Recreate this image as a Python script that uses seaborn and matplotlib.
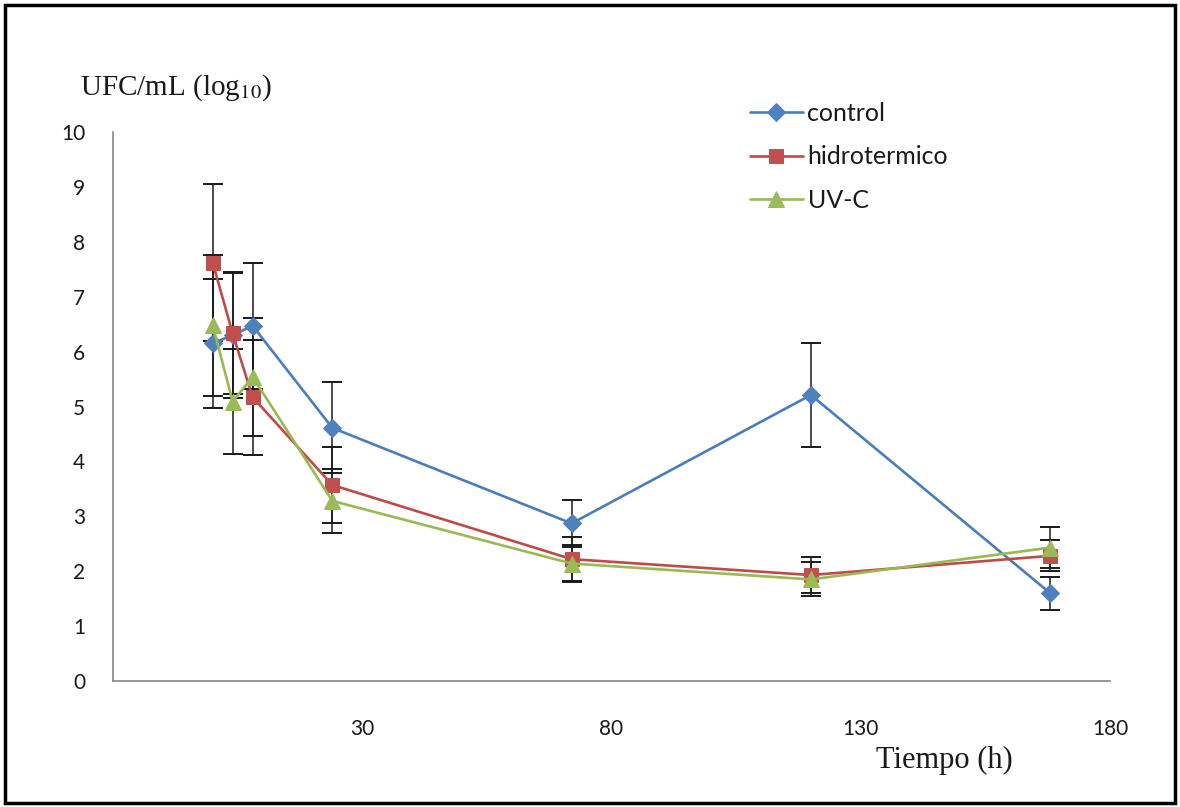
import matplotlib
matplotlib.use("Agg")
import matplotlib.pyplot as plt
from matplotlib.patches import Rectangle
import seaborn as sns
import pandas as pd
import numpy as np

# ---- data ----
time_h = [0, 4, 8, 24, 72, 120, 168]
control = [6.15, 6.30, 6.47, 4.61, 2.87, 5.21, 1.60]
control_err = [1.18, 1.15, 1.15, 0.83, 0.43, 0.95, 0.30]
hidrotermico = [7.62, 6.33, 5.17, 3.57, 2.22, 1.93, 2.28]
hidrotermico_err = [1.43, 1.10, 1.05, 0.69, 0.40, 0.32, 0.28]
uvc = [6.48, 5.09, 5.54, 3.28, 2.14, 1.85, 2.43]
uvc_err = [1.28, 0.95, 1.08, 0.58, 0.34, 0.31, 0.38]
series_names = ["control", "hidrotermico", "UV-C"]
x_ticks = [30, 80, 130, 180]
y_ticks = list(range(0, 11))

line_colors = {"control": "#4A7EBB", "hidrotermico": "#BE4B48", "UV-C": "#98B954"}
marker_colors = {"control": "#4F81BD", "hidrotermico": "#C0504D", "UV-C": "#9BBB59"}
markers = {"control": "D", "hidrotermico": "s", "UV-C": "^"}
msizes = {"control": 9.5, "hidrotermico": 10, "UV-C": 11}

df = pd.DataFrame({
    "Tiempo": time_h * 3,
    "UFC": control + hidrotermico + uvc,
    "err": control_err + hidrotermico_err + uvc_err,
    "serie": [s for s in series_names for _ in time_h],
})

sns.set_style("white")
plt.rcParams['font.family'] = ['Lato', 'DejaVu Sans']

fig = plt.figure(figsize=(11.8, 8.07), dpi=100)
W, H = 1180, 807
ax = fig.add_axes([113 / W, 1 - 681 / H, (1110 - 113) / W, (681 - 132) / H])

# error bars
for s in series_names:
    d = df[df.serie == s]
    ax.errorbar(d["Tiempo"], d["UFC"], yerr=d["err"], fmt="none",
                ecolor="#1a1a1a", elinewidth=1.1, capsize=7, capthick=1.4, zorder=2)

# lines + markers via seaborn
for s in series_names:
    d = df[df.serie == s]
    sns.lineplot(data=d, x="Tiempo", y="UFC", ax=ax, color=line_colors[s],
                 linewidth=1.9, marker=markers[s], markersize=msizes[s],
                 markerfacecolor=marker_colors[s], markeredgecolor=marker_colors[s],
                 label=s, zorder=3, errorbar=None)

ax.set_xlim(-20, 180)
ax.set_ylim(0, 10)
ax.set_xticks([-20] + x_ticks)
ax.set_xticklabels([""] + [str(v) for v in x_ticks])
ax.set_yticks(y_ticks)
ax.set_yticklabels([str(v) for v in y_ticks])
ax.set_xlabel("")
ax.set_ylabel("")

for sp in ["top", "right"]:
    ax.spines[sp].set_visible(False)
for sp in ["left", "bottom"]:
    ax.spines[sp].set_color("#868686")
    ax.spines[sp].set_linewidth(1.2)

ax.tick_params(axis="both", direction="out", length=6, width=1.2, color="#868686",
               labelsize=15, labelcolor="#1a1a1a")
ax.tick_params(axis="x", pad=21.5)
ax.tick_params(axis="y", pad=14)

# axis titles
fig.text(80 / W, 1 - 88 / H, r"UFC/mL (log$_{10}$)", fontsize=21,
         family="Liberation Serif", va="center", ha="left", color="#1a1a1a",
         math_fontfamily="stix")
fig.text(944 / W, 1 - 760 / H, "Tiempo (h)", fontsize=22, family="Liberation Serif",
         va="center", ha="center", color="#1a1a1a")

# legend
leg = ax.legend(loc="upper left", bbox_to_anchor=(750 / W, 1 - 102 / H),
                bbox_transform=fig.transFigure, frameon=False, fontsize=18,
                handlelength=2.1, handletextpad=0.2, labelspacing=0.81,
                borderaxespad=0, borderpad=0)
for t in leg.get_texts():
    t.set_color("#1a1a1a")

# outer frame
fig.patches.append(Rectangle((5 / W, 4 / H), 1170 / W, 798 / H, transform=fig.transFigure,
                             fill=False, edgecolor="black", linewidth=2.5))

fig.savefig("out.png", dpi=100)
